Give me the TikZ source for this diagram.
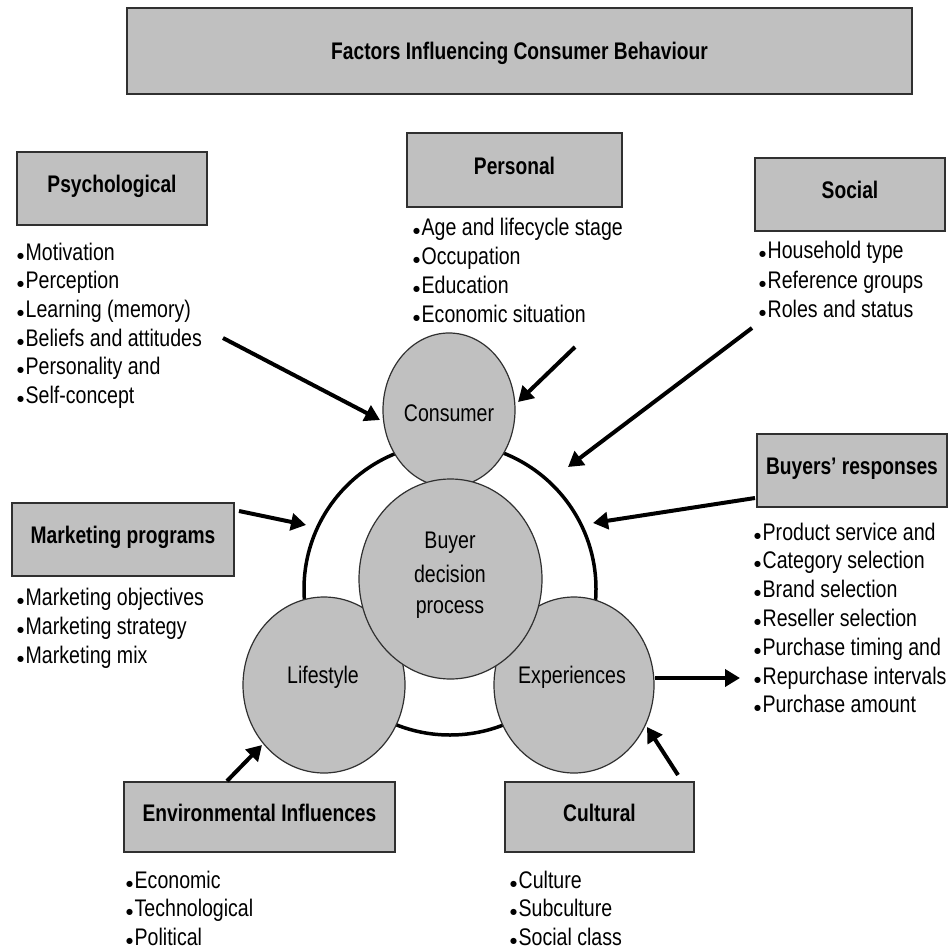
\documentclass[tikz,border=0pt]{standalone}
\usepackage{fontspec}
\setmainfont{Liberation Sans}[FakeStretch=0.815, BoldFeatures={FakeStretch=0.80}]
\newfontfamily\symfont{DejaVu Sans}
\usetikzlibrary{arrows.meta,shapes.geometric}
\definecolor{boxgray}{HTML}{C0C0C0}
\definecolor{edgegray}{HTML}{303030}
\newcommand\bul{\raisebox{2pt}{\symfont\fontsize{8pt}{8pt}\selectfont ●}\hspace{1.5pt}}
\begin{document}
\begin{tikzpicture}[x=1pt,y=-1pt,
  every node/.style={inner sep=0pt, font=\fontsize{24pt}{29pt}\selectfont},
  hbox/.style={draw=edgegray, fill=boxgray, line width=1.6pt, text height=17pt, text depth=8.5pt,
    font=\fontsize{24pt}{29pt}\selectfont\bfseries},
  item/.style={anchor=base west},
  blob/.style={ellipse, draw=edgegray, fill=boxgray, line width=1.2pt},
  lab/.style={anchor=base},
  arr/.style={line width=4pt, -{Triangle[length=15pt,width=17pt]}}
]
\useasboundingbox (0,0) rectangle (948,950);
\fill[white] (0,0) rectangle (948,950);

% header boxes
\node[hbox, minimum width=785pt, minimum height=86pt, text depth=0pt] (title) at (519.5,51) {Factors Influencing Consumer Behaviour};
\node[hbox, minimum width=190pt, minimum height=73pt] (psy) at (112,188.5) {Psychological};
\node[hbox, minimum width=215pt, minimum height=74pt] (per) at (514.5,170) {Personal};
\node[hbox, minimum width=190pt, minimum height=73pt] (soc) at (850,194.5) {Social};
\node[hbox, minimum width=222pt, minimum height=73pt] (mkt) at (123,539.5) {Marketing programs};
\node[hbox, minimum width=190pt, minimum height=73pt] (buy) at (852,470.5) {Buyers' responses};
\node[hbox, minimum width=271pt, minimum height=70pt] (env) at (259.5,817) {Environmental Influences};
\node[hbox, minimum width=189pt, minimum height=70pt] (cul) at (599.5,817) {Cultural};

% lists
\foreach \t/\y [count=\i] in {Motivation/260, Perception/288.7, Learning (memory)/317.4,
  Beliefs and attitudes/346, Personality and/374.8, Self-concept/403.5}
  \node[item] (psyi\i) at (17,\y) {\bul\t};
\foreach \t/\y [count=\i] in {Age and lifecycle stage/235, Occupation/264, Education/293, Economic situation/322}
  \node[item] (peri\i) at (413,\y) {\bul\t};
\foreach \t/\y [count=\i] in {Household type/258, Reference groups/288, Roles and status/317}
  \node[item] (soci\i) at (759,\y) {\bul\t};
\foreach \t/\y [count=\i] in {Marketing objectives/605, Marketing strategy/634, Marketing mix/663}
  \node[item] (mkti\i) at (17,\y) {\bul\t};
\foreach \t/\y [count=\i] in {Product service and/540, Category selection/568.8, Brand selection/597.6,
  Reseller selection/626.4, Purchase timing and/655.2, Repurchase intervals/684, Purchase amount/712.8}
  \node[item] (buyi\i) at (754,\y) {\bul\t};
\foreach \t/\y [count=\i] in {Economic/888, Technological/916, Political/945}
  \node[item] (envi\i) at (126,\y) {\bul\t};
\foreach \t/\y [count=\i] in {Culture/888, Subculture/916, Social class/945}
  \node[item] (culi\i) at (510,\y) {\bul\t};

% ring and circles
\node[circle, draw=black, line width=3.5pt, minimum size=292pt] (ring) at (450,589) {};
\node[blob, minimum width=162pt, minimum height=176pt] (life) at (324,685) {};
\node[blob, minimum width=160pt, minimum height=176pt] (exp) at (574,685) {};
\node[blob, minimum width=132pt, minimum height=154pt] (cons) at (449,410) {};
\node[blob, minimum width=183pt, minimum height=200pt] (bdp) at (450.5,579) {};

\node[lab] (consl) at (449,421) {Consumer};
\node[lab] (bdp1) at (450,548) {Buyer};
\node[lab] (bdp2) at (450,582) {decision};
\node[lab] (bdp3) at (450,613) {process};
\node[lab] (lifel) at (323,683) {Lifestyle};
\node[lab] (expl) at (572,683) {Experiences};

% arrows
\coordinate (psyA) at (223,338); \coordinate (psyB) at (380,420);
\coordinate (perA) at (575,347); \coordinate (perB) at (518,402);
\coordinate (socA) at (752,328); \coordinate (socB) at (568,467);
\coordinate (mktA) at (239,511); \coordinate (mktB) at (306,525);
\coordinate (buyA) at (755,498); \coordinate (buyB) at (593,523);
\coordinate (expA) at (655,678); \coordinate (expB) at (740,678);
\coordinate (envA) at (227,781); \coordinate (envB) at (262,745);
\coordinate (culA) at (678,775); \coordinate (culB) at (647,727);
\draw[arr] (psyA) -- (psyB);
\draw[arr] (perA) -- (perB);
\draw[arr] (socA) -- (socB);
\draw[arr] (mktA) -- (mktB);
\draw[arr] (buyA) -- (buyB);
\draw[arr] (expA) -- (expB);
\draw[arr] (envA) -- (envB);
\draw[arr] (culA) -- (culB);
\end{tikzpicture}
\end{document}
